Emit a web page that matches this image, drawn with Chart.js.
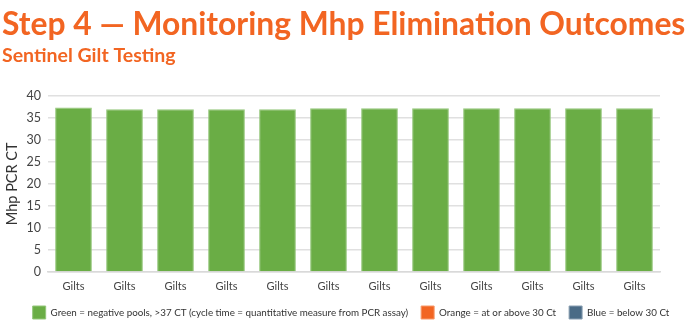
<!DOCTYPE html>
<html>
<head>
<meta charset="utf-8">
<script src="https://cdn.jsdelivr.net/npm/chart.js@4/dist/chart.umd.min.js"></script>
<style>
  html, body { margin: 0; padding: 0; background: #fff; }
  #wrap { width: 700px; height: 329px; position: relative; }
</style>
</head>
<body>
<div id="wrap"><canvas id="chart"></canvas></div>
<script>
// pool results per sentinel gilt group
const categories = ['Gilts', 'Gilts', 'Gilts', 'Gilts', 'Gilts', 'Gilts',
                    'Gilts', 'Gilts', 'Gilts', 'Gilts', 'Gilts', 'Gilts'];
const negativeCt = [37.3, 36.9, 36.9, 36.9, 36.9, 37.1, 37.1, 37.1, 37.1, 37.1, 37.1, 37.1];
const atOrAbove30 = [null, null, null, null, null, null, null, null, null, null, null, null];
const below30 = [null, null, null, null, null, null, null, null, null, null, null, null];
const yTicks = [0, 5, 10, 15, 20, 25, 30, 35, 40];

const GREEN = '#6aad45';
const ORANGE = '#f26522';
const BLUE = '#4a6b86';
const FONT = 'Lato, "DejaVu Sans", sans-serif';

// the legend sits tight under the axis labels, so cap its height
const legendFit = {
    id: 'legendFit',
    afterInit(chart) {
        const fit = chart.legend.fit;
        chart.legend.fit = function () {
            fit.call(this);
            this.height = 36;
        };
    }
};

new Chart(document.getElementById('chart'), {
    type: 'bar',
    data: {
        labels: categories,
        datasets: [
            {
                label: 'Green = negative pools, >37 CT (cycle time = quantitative measure from PCR assay)',
                data: negativeCt,
                backgroundColor: GREEN,
                borderColor: '#94c77a',
                borderWidth: 1
            },
            {
                label: 'Orange = at or above 30 Ct',
                data: atOrAbove30,
                backgroundColor: ORANGE,
                borderColor: '#f79a6a',
                borderWidth: 1
            },
            {
                label: 'Blue = below 30 Ct',
                data: below30,
                backgroundColor: BLUE,
                borderColor: '#8aa0b3',
                borderWidth: 1
            }
        ]
    },
    plugins: [legendFit],
    options: {
        responsive: true,
        maintainAspectRatio: false,
        animation: false,
        layout: { padding: { left: 2, right: 0, top: 0, bottom: 0 } },
        datasets: {
            bar: { grouped: false, categoryPercentage: 1, barPercentage: 0.72 }
        },
        plugins: {
            title: {
                display: true,
                align: 'start',
                text: 'Step 4 \u2014 Monitoring Mhp Elimination Outcomes',
                color: ORANGE,
                font: { family: FONT, size: 31.8, weight: 'bold' },
                padding: { top: 6, bottom: 0 }
            },
            subtitle: {
                display: true,
                align: 'start',
                text: 'Sentinel Gilt Testing',
                color: ORANGE,
                font: { family: FONT, size: 19.5, weight: 'bold' },
                padding: { top: 0, bottom: 28 }
            },
            legend: {
                position: 'bottom',
                labels: {
                    boxWidth: 13,
                    boxHeight: 13,
                    padding: 13,
                    color: '#333',
                    font: { family: FONT, size: 9.8 }
                }
            },
            tooltip: { enabled: false }
        },
        scales: {
            x: {
                grid: { display: false, drawTicks: false },
                border: { color: '#d9d9d9', width: 1.5 },
                ticks: { color: '#444', font: { family: FONT, size: 11 }, padding: 8 },
                afterFit: axis => { axis.height = 21; }
            },
            y: {
                min: 0,
                max: 40,
                afterBuildTicks: axis => { axis.ticks = yTicks.map(v => ({ value: v })); },
                afterFit: axis => { axis.width = 46; },
                grid: { color: '#e0e0e0', lineWidth: 1.5, drawTicks: false },
                border: { display: false },
                ticks: { color: '#444', font: { family: FONT, size: 12.5 }, padding: 7, autoSkip: false },
                title: {
                    display: true,
                    text: 'Mhp PCR CT',
                    color: '#333',
                    font: { family: FONT, size: 14.5 },
                    padding: { top: 2, bottom: 4 }
                }
            },
            // empty axis on the right, keeps the plot clear of the page edge
            yRight: {
                position: 'right',
                grid: { display: false },
                border: { display: false },
                ticks: { display: false },
                afterFit: axis => { axis.width = 40; }
            }
        }
    }
});
</script>
</body>
</html>
